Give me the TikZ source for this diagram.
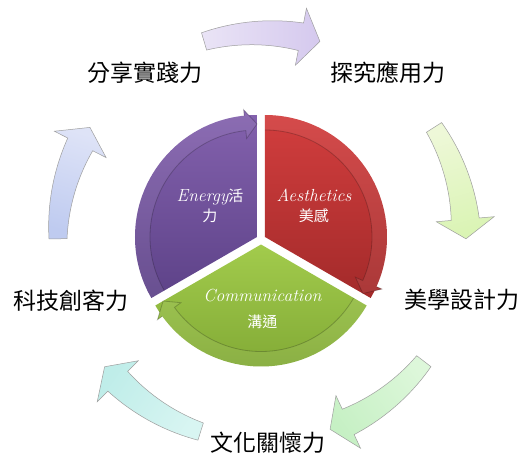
\documentclass[tikz,border=0pt]{standalone}
\usepackage{fontspec}
\newfontfamily\cjkfont{Noto Sans CJK TC}
\definecolor{purpT}{HTML}{8462AE}
\definecolor{purpB}{HTML}{5D4288}
\definecolor{redT}{HTML}{D23E3E}
\definecolor{redB}{HTML}{A32A2A}
\definecolor{grnT}{HTML}{A2CB4C}
\definecolor{grnB}{HTML}{7EA633}
\definecolor{aTailA}{HTML}{EAE4F6}\definecolor{aHeadA}{HTML}{D5C9EE}
\definecolor{aTailB}{HTML}{EEF8D8}\definecolor{aHeadB}{HTML}{DAF4B4}
\definecolor{aTailC}{HTML}{DDF7DA}\definecolor{aHeadC}{HTML}{C6F0C4}
\definecolor{aTailD}{HTML}{D8F5F2}\definecolor{aHeadD}{HTML}{BFEDE9}
\definecolor{aTailE}{HTML}{BFCBF0}\definecolor{aHeadE}{HTML}{DEE3F7}
\newcommand{\engword}[1]{{\itshape\addfontfeature{FakeBold=0.6}#1}}
\newcommand{\cjksmall}[1]{{\cjkfont\fontsize{15}{20}\selectfont #1}}
\tikzset{
  outerlabel/.style={font=\cjkfont\fontsize{23}{26}\selectfont, text=black, inner sep=0pt},
  pietext/.style={text=white, align=center, inner sep=0pt, font=\fontsize{17.5}{20}\selectfont},
  cyclearrowstyle/.style={draw=black!38, line width=0.5pt},
}
\newcommand{\cycarrow}[4]{%
  \pgfmathsetmacro{\ta}{#1+16.5}%
  \pgfmathsetmacro{\ba}{#1-11}%
  \pgfmathsetmacro{\pa}{#1-16.5}%
  \shadedraw[cyclearrowstyle, top color=#2, bottom color=#3, shading angle=#1]
    plot[domain=0:1, samples=24, variable=\q] ({\ta+\q*(\ba-\ta)}:{213+5*\q})
    -- ({\ba}:{233}) -- ({\pa}:{204}) -- ({\ba}:{175})
    -- plot[domain=0:1, samples=24, variable=\q] ({\ba+\q*(\ta-\ba)}:{195-5*(1-\q)})
    -- cycle;
  \coordinate (#4) at (#1:204);
}
\newcommand{\piesector}[6]{%
  \begin{scope}[shift={#1}]
    \coordinate (#6) at (0,0);
    \pgfmathsetmacro{\hb}{#3+6}%
    \shade[top color=#4, bottom color=#5] (0,0) -- (#3:122) arc[start angle=#3, end angle=#2, radius=122] -- cycle
       (\hb:99) -- (#3:113) -- (\hb:128) -- cycle;
    \fill[white, fill opacity=0.07] (#2:122) arc[start angle=#2, end angle=\hb, radius=122]
       -- (\hb:128) -- (#3:113) -- (\hb:99) -- (\hb:107) arc[start angle=\hb, end angle=#2, radius=107] -- cycle;
    \draw[black, draw opacity=0.22, line width=0.8pt] (#2:107) arc[start angle=#2, end angle=\hb, radius=107]
       -- (\hb:99) -- (#3:113) -- (\hb:128) -- (\hb:122);
  \end{scope}}
\begin{document}
\begin{tikzpicture}[x=1pt,y=1pt]
  \fill[white] (-262,237) rectangle (263,-222);
  \useasboundingbox (-262,237) rectangle (263,-222);
  % outer cycle arrows
  \cycarrow{90}{aTailA}{aHeadA}{arrA}
  \cycarrow{16}{aTailB}{aHeadB}{arrB}
  \cycarrow{-54}{aTailC}{aHeadC}{arrC}
  \cycarrow{-124}{aTailD}{aHeadD}{arrD}
  \cycarrow{164}{aTailE}{aHeadE}{arrE}
  % outer labels
  \node[outerlabel] (share) at (-117,164) {分享實踐力};
  \node[outerlabel] (explore) at (126,164) {探究應用力};
  \node[outerlabel] (design) at (200,-63) {美學設計力};
  \node[outerlabel] (culture) at (6,-206) {文化關懷力};
  \node[outerlabel] (maker) at (-191,-64) {科技創客力};
  % pie sectors
  \piesector{(-5,0)}{210}{90}{purpT}{purpB}{vPurple}
  \piesector{(3,0)}{90}{-30}{redT}{redB}{vRed}
  \piesector{(-1,-7.5)}{330}{210}{grnT}{grnB}{vGreen}
  % pie texts
  \node[pietext] (energy) at (-52,31) {\engword{Energy}\cjksmall{活}\\\cjksmall{力}};
  \node[pietext] (aesth) at (52,31) {\engword{Aesthetics}\\\cjksmall{美感}};
  \node[pietext] (comm) at (0.5,-72) {\engword{Communication}\\[6pt]\cjksmall{溝通}};
\end{tikzpicture}
\end{document}
